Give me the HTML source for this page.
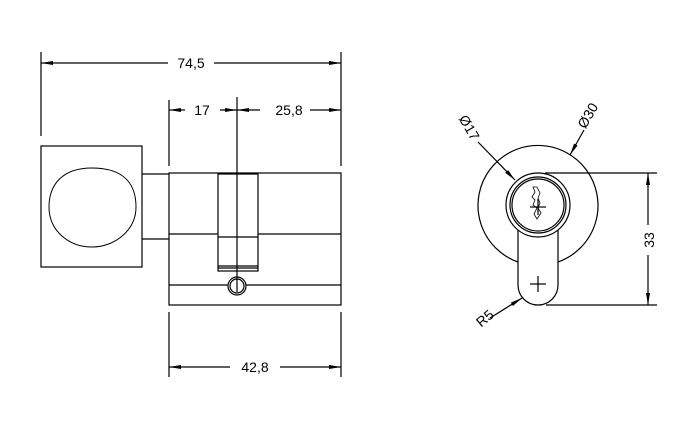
<!DOCTYPE html>
<html><head><style>body{margin:0;background:#fff}svg{display:block}text{font-family:"Liberation Sans",sans-serif;font-size:14px;fill:#000}</style></head>
<body>
<svg width="700" height="423" viewBox="0 0 700 423" xmlns="http://www.w3.org/2000/svg">
<defs><marker id="a" markerWidth="12" markerHeight="6" refX="12" refY="3" orient="auto" markerUnits="userSpaceOnUse"><path d="M0,1 L12,3 L0,5 Z" fill="#000"/></marker></defs>
<g stroke="#000" stroke-width="1.2" fill="none">
<line x1="41" y1="52" x2="41" y2="136"/>
<line x1="341" y1="52" x2="341" y2="166"/>
<line x1="169" y1="100" x2="169" y2="166"/>
<line x1="169" y1="312" x2="169" y2="377"/>
<line x1="341" y1="312" x2="341" y2="377"/>
<line x1="168" y1="63" x2="41" y2="63" marker-end="url(#a)"/>
<line x1="214" y1="63" x2="341" y2="63" marker-end="url(#a)"/>
<line x1="185" y1="110" x2="169" y2="110" marker-end="url(#a)"/>
<line x1="220" y1="110" x2="237" y2="110" marker-end="url(#a)"/>
<line x1="260" y1="110" x2="237" y2="110" marker-end="url(#a)"/>
<line x1="310" y1="110" x2="341" y2="110" marker-end="url(#a)"/>
<line x1="230" y1="367" x2="169" y2="367" marker-end="url(#a)"/>
<line x1="280" y1="367" x2="341" y2="367" marker-end="url(#a)"/>
<rect x="41" y="146" width="101" height="121"/>
<path d="M92,168 C125,168 136,185 136,207 C136,230 115,247 92,247 C68,247 49,230 49,207 C49,185 62,168 92,168 Z" stroke-width="1"/>
<line x1="142" y1="174" x2="169" y2="174"/>
<line x1="142" y1="239" x2="169" y2="239"/>
<rect x="169" y="173" width="172" height="132"/>
<line x1="169" y1="234" x2="218" y2="234"/>
<line x1="258" y1="234" x2="341" y2="234"/>
<rect x="218" y="174" width="40" height="97"/>
<line x1="218" y1="237" x2="258" y2="237"/>
<line x1="218" y1="266" x2="258" y2="266"/>
<line x1="218" y1="268" x2="258" y2="268"/>
<line x1="169" y1="285" x2="341" y2="285"/>
<circle cx="237" cy="286" r="9" fill="#fff"/>
<circle cx="237" cy="286" r="7"/>
<line x1="237" y1="97" x2="237" y2="292"/>
<path d="M518,262 A60,60 0 1 1 558,262"/>
<circle cx="538" cy="205" r="32"/>
<circle cx="538" cy="205" r="28"/>
<circle cx="538" cy="205" r="26"/>
<path d="M518,230 L518,285 A20,20 0 0 0 558,285 L558,230"/>
<line x1="530" y1="207" x2="546" y2="207"/><line x1="538" y1="199" x2="538" y2="215"/>
<line x1="530" y1="284" x2="546" y2="284"/><line x1="538" y1="276" x2="538" y2="292"/>
<path d="M537,187 L533,187 L535,192 L532,197 L535,200 L533,205 L537,208 L534,214 L537,219 L541,213 L538,208 L540,203 L538,198 L540,193 Z" stroke-width="0.8"/>
<line x1="545" y1="173" x2="657" y2="173"/>
<line x1="546" y1="305" x2="657" y2="305"/>
<line x1="648" y1="225" x2="648" y2="173" marker-end="url(#a)"/>
<line x1="648" y1="255" x2="648" y2="305" marker-end="url(#a)"/>
<line x1="478" y1="142" x2="515" y2="180" marker-end="url(#a)"/>
<line x1="584" y1="130" x2="570" y2="155" marker-end="url(#a)"/>
<line x1="490" y1="318" x2="522" y2="298" marker-end="url(#a)"/>
</g>
<text x="191" y="68" text-anchor="middle">74,5</text>
<text x="202" y="115" text-anchor="middle">17</text>
<text x="289" y="115" text-anchor="middle">25,8</text>
<text x="255" y="372" text-anchor="middle">42,8</text>
<text transform="translate(654,240) rotate(-90)" text-anchor="middle">33</text>
<text transform="translate(465,130) rotate(60)" text-anchor="middle">Ø17</text>
<text transform="translate(592,118) rotate(-60)" text-anchor="middle">Ø30</text>
<text transform="translate(488,322) rotate(-40)" text-anchor="middle">R5</text>
</svg>
</body></html>
